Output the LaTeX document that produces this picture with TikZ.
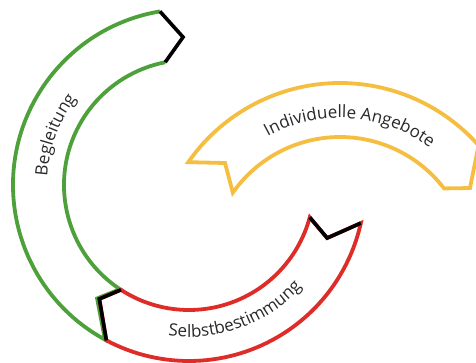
\documentclass[tikz,border=0pt]{standalone}
\usepackage{fontspec}
\setmainfont{Open Sans}
\usepackage{tikz}
\usetikzlibrary{decorations.text}
\definecolor{gruen}{RGB}{78,160,58}
\definecolor{rot}{RGB}{222,44,40}
\definecolor{gelb}{RGB}{245,190,65}
\definecolor{schrift}{RGB}{40,40,40}

\begin{document}
\begin{tikzpicture}[x=1pt,y=1pt,
  band/.style={line width=3.8pt,line join=miter},
  spitze/.style={line width=3.6pt,black,line join=miter},
  beschriftung/.style={decorate,decoration={text along path,text align=center,
    text color=schrift,text={|\fontsize{17}{19}\selectfont|#1}}}]
\useasboundingbox (0,0) rectangle (476,363);
\begin{scope}[shift={(189,178)}]
\draw[band,gruen] (99.5:176) arc[start angle=99.5,end angle=241.5,radius=176]
  -- (231:146) -- (236.5:125) arc[start angle=236.5,end angle=101,radius=125];
\draw[spitze] (101:125) -- (92.3:148) -- (99.5:176);
\draw[band,rot] (242:176) arc[start angle=242,end angle=347.5,radius=176]
  -- (339:148) -- (345:125) arc[start angle=345,end angle=237,radius=125]
  -- (231.8:145) -- cycle;
\draw[spitze] (345:125) -- (339:148) -- (347.5:176);
\draw[spitze] (237:125) -- (231.8:145) -- (242:176);
\path[beschriftung=Begleitung] (177:142) arc[start angle=177,end angle=142,radius=142];
\path[beschriftung=Selbstbestimmung] (258:152) arc[start angle=258,end angle=322,radius=152];
\end{scope}
\begin{scope}[shift={(340,95)}]
\draw[band,gelb] (145.1:185) arc[start angle=145.1,end angle=41.5,radius=185]
  -- (31.6:152.6) -- (37.4:131) arc[start angle=37.4,end angle=144.9,radius=131]
  -- (137.6:155.7) -- cycle;
\path[beschriftung=Individuelle Angebote] (123:150) arc[start angle=123,end angle=49,radius=150];
\end{scope}
\end{tikzpicture}
\end{document}
